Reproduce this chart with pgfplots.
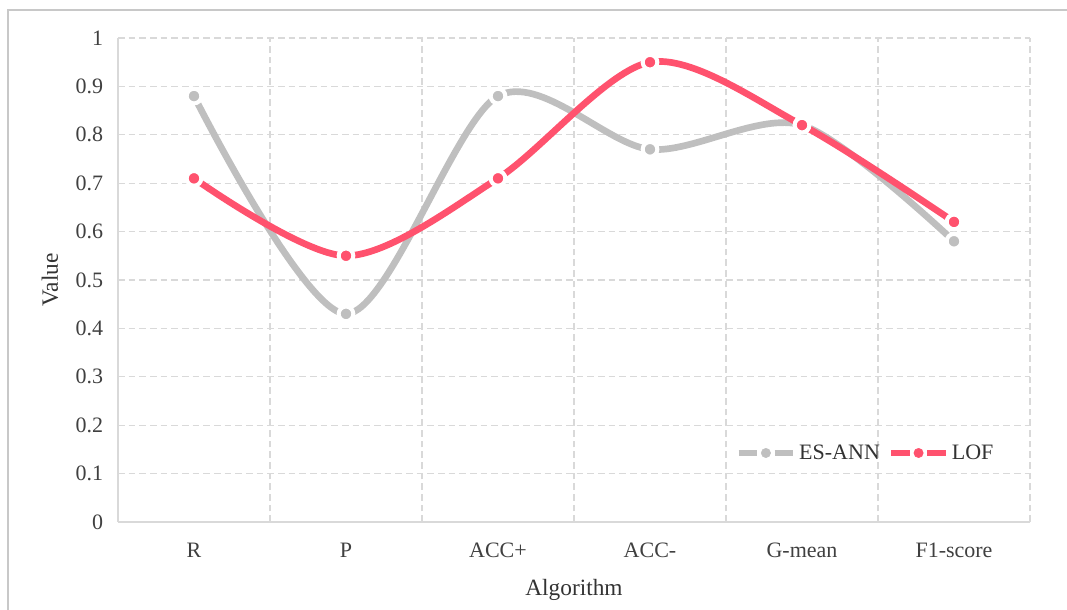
\documentclass[border=0pt]{standalone}
\usepackage{fontspec}
\setmainfont{Liberation Serif}
\usepackage{pgfplots}
\pgfplotsset{compat=1.18}
\definecolor{esgray}{RGB}{191,191,191}
\definecolor{lofred}{RGB}{255,82,110}
\definecolor{gridc}{RGB}{217,217,217}
\definecolor{framec}{RGB}{200,200,200}
\begin{document}
\begin{tikzpicture}[x=1pt,y=1pt]
\useasboundingbox (0,0) rectangle (800.25,457.5);
\draw[framec, line width=1.4pt] (6,0) -- (6,450) -- (800.25,450);
\begin{axis}[
  at={(88.5pt,66pt)}, anchor=south west,
  width=684pt, height=363pt, scale only axis,
  xmin=-0.5, xmax=5.5, ymin=0, ymax=1,
  axis lines*=left,
  axis line style={gridc, line width=1pt},
  xtick={0,1,2,3,4,5},
  xticklabels={R,P,ACC+,ACC-,G-mean,F1-score},
  minor xtick={0.5,1.5,2.5,3.5,4.5,5.5},
  ytick={0,0.1,...,1.0},
  yticklabels={0,0.1,0.2,0.3,0.4,0.5,0.6,0.7,0.8,0.9,1},
  major tick length=0pt, minor tick length=0pt,
  xminorgrids, ymajorgrids,
  minor grid style={gridc, line width=0.9pt, dash pattern=on 5pt off 3pt},
  major grid style={gridc, line width=0.9pt, dash pattern=on 5pt off 3pt},
  tick label style={font=\fontsize{16.5}{19}\selectfont, text=black!75},
  xticklabel style={anchor=center, yshift=-21pt},
  yticklabel style={anchor=east, inner sep=0pt, xshift=-11pt},
  xlabel={Algorithm}, ylabel={Value},
  label style={font=\fontsize{17.5}{20}\selectfont, text=black!80},
  xlabel style={at={(axis description cs:0.5,-0.1405)}, anchor=center},
  ylabel style={at={(axis description cs:-0.0746,0.5)}, anchor=center},
  legend style={at={(axis description cs:0.6765,0.1426)}, anchor=west,
    draw=none, fill=none, font=\fontsize{16.5}{19}\selectfont, text=black!80,
    inner sep=0pt, row sep=0pt},
  legend columns=2,
  legend cell align=left,
  /tikz/every even column/.append style={column sep=4pt},
  clip=false,
]
\addlegendimage{legend image code/.code={
    \draw[esgray, line width=5pt] (0pt,0pt) -- (14pt,0pt);
    \fill[esgray] (20.5pt,0pt) circle (3.5pt);
    \draw[esgray, line width=5pt] (27pt,0pt) -- (41pt,0pt);}}
\addlegendentry{ES-ANN}
\addlegendimage{legend image code/.code={
    \draw[lofred, line width=5pt] (0pt,0pt) -- (14pt,0pt);
    \fill[lofred] (20.5pt,0pt) circle (3.5pt);
    \draw[lofred, line width=5pt] (27pt,0pt) -- (41pt,0pt);}}
\addlegendentry{LOF}
\addplot[esgray, line width=5pt, smooth, tension=0.5,
  mark=*, mark size=5.5pt, mark options={fill=esgray, draw=white, line width=3pt}, forget plot]
  coordinates {(0,0.88) (1,0.43) (2,0.88) (3,0.77) (4,0.82) (5,0.58)};
\addplot[lofred, line width=5pt, smooth, tension=0.5,
  mark=*, mark size=5.5pt, mark options={fill=lofred, draw=white, line width=3pt}, forget plot]
  coordinates {(0,0.71) (1,0.55) (2,0.71) (3,0.95) (4,0.82) (5,0.62)};
\end{axis}
\end{tikzpicture}
\end{document}
